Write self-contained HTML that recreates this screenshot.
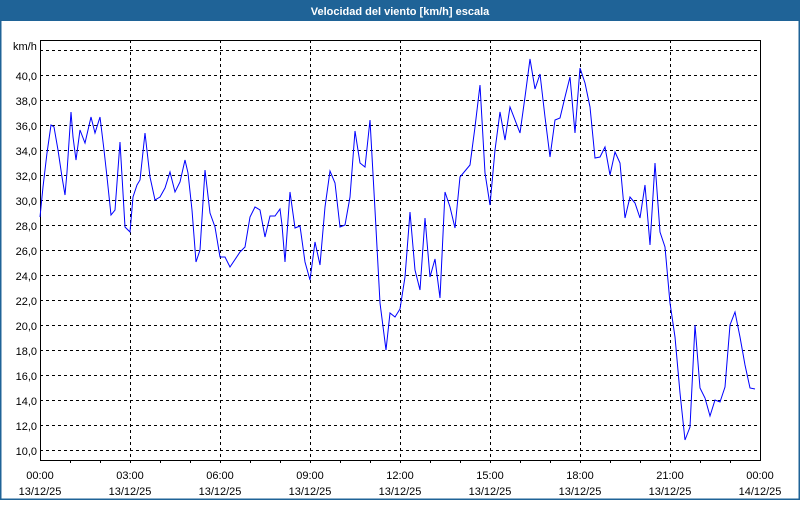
<!DOCTYPE html>
<html><head><meta charset="utf-8"><style>
html,body{margin:0;padding:0;background:#fff;}
body{width:800px;height:500px;overflow:hidden;}
svg text{font-family:"Liberation Sans","DejaVu Sans",sans-serif;font-size:11px;fill:#000;}
</style></head><body>
<svg width="800" height="500" viewBox="0 0 800 500" xmlns="http://www.w3.org/2000/svg">
<rect x="0" y="0" width="800" height="500" fill="#fff"/>
<rect x="0.5" y="0.5" width="799" height="499" fill="none" stroke="#1f6397" stroke-width="2"/>
<rect x="0" y="0" width="800" height="21" fill="#1f6397"/>
<text x="400" y="15" text-anchor="middle" style="fill:#fff;font-weight:bold;font-size:11px">Velocidad del viento [km/h] escala</text>
<g stroke="#000" stroke-width="1" stroke-dasharray="3,3" shape-rendering="crispEdges">
<line x1="40" y1="50.5" x2="760" y2="50.5"/>
<line x1="40" y1="75.5" x2="760" y2="75.5"/>
<line x1="40" y1="100.5" x2="760" y2="100.5"/>
<line x1="40" y1="125.5" x2="760" y2="125.5"/>
<line x1="40" y1="150.5" x2="760" y2="150.5"/>
<line x1="40" y1="175.5" x2="760" y2="175.5"/>
<line x1="40" y1="200.5" x2="760" y2="200.5"/>
<line x1="40" y1="225.5" x2="760" y2="225.5"/>
<line x1="40" y1="250.5" x2="760" y2="250.5"/>
<line x1="40" y1="275.5" x2="760" y2="275.5"/>
<line x1="40" y1="300.5" x2="760" y2="300.5"/>
<line x1="40" y1="325.5" x2="760" y2="325.5"/>
<line x1="40" y1="350.5" x2="760" y2="350.5"/>
<line x1="40" y1="375.5" x2="760" y2="375.5"/>
<line x1="40" y1="400.5" x2="760" y2="400.5"/>
<line x1="40" y1="425.5" x2="760" y2="425.5"/>
<line x1="40" y1="450.5" x2="760" y2="450.5"/>
<line x1="130.5" y1="40" x2="130.5" y2="460"/>
<line x1="220.5" y1="40" x2="220.5" y2="460"/>
<line x1="310.5" y1="40" x2="310.5" y2="460"/>
<line x1="400.5" y1="40" x2="400.5" y2="460"/>
<line x1="490.5" y1="40" x2="490.5" y2="460"/>
<line x1="580.5" y1="40" x2="580.5" y2="460"/>
<line x1="670.5" y1="40" x2="670.5" y2="460"/>
</g>
<rect x="40.5" y="40.5" width="720" height="420" fill="none" stroke="#000" stroke-width="1" shape-rendering="crispEdges"/>
<g stroke="#000" stroke-width="1" shape-rendering="crispEdges">
<path d="M70.5 460v3M100.5 460v3M130.5 460v3M160.5 460v3M190.5 460v3M220.5 460v3M250.5 460v3M280.5 460v3M310.5 460v3M340.5 460v3M370.5 460v3M400.5 460v3M430.5 460v3M460.5 460v3M490.5 460v3M520.5 460v3M550.5 460v3M580.5 460v3M610.5 460v3M640.5 460v3M670.5 460v3M700.5 460v3M730.5 460v3"/>
</g>
<polyline fill="none" stroke="#0000ff" stroke-width="1" points="40,217 43,187 47,153 51,125 54,127 58,150 62,177 65,195 67,172 71,112 73,137 76,160 80,130 85,143 91,117 95,133 100,117 104,150 107,177 111,215 115,210 120,142 125,227 130,232 133,197 137,185 140,180 145,133 150,177 155,200 160,197 165,188 170,172 175,192 180,182 185,160 188,173 192,210 196,262 200,250 205,170 210,213 215,227 220,257 225,257 230,267 240,252 245,247 250,217 255,207 260,210 265,237 270,216 275,216 280,209 282,225 285,262 290,192 295,228 300,226 305,262 310,280 315,242 320,265 325,207 330,171 335,183 340,227 345,225 350,197 355,131 360,163 365,167 370,120 375,210 380,303 386,350 390,313 395,317 400,309 405,277 410,212 415,270 420,290 425,218 430,277 435,259 440,298 445,192 450,207 455,228 460,177 470,165 475,127 480,85 485,173 490,205 495,150 500,112 505,140 510,107 520,133 525,97 530,59 535,89 540,74 545,117 550,157 555,120 560,118 565,97 570,77 575,133 580,68 585,83 590,107 595,158 600,157 605,147 610,175 615,152 620,163 625,218 630,197 635,203 640,218 645,185 650,245 655,163 660,232 665,247 670,303 675,337 680,393 685,440 690,427 695,325 700,388 705,398 710,416 715,400 720,402 725,387 730,325 735,312 740,337 745,365 750,388 755,389"/>
<text x="13" y="50">km/h</text>
<g text-anchor="end">
<text x="37" y="80">40,0</text>
<text x="37" y="105">38,0</text>
<text x="37" y="130">36,0</text>
<text x="37" y="155">34,0</text>
<text x="37" y="180">32,0</text>
<text x="37" y="205">30,0</text>
<text x="37" y="230">28,0</text>
<text x="37" y="255">26,0</text>
<text x="37" y="280">24,0</text>
<text x="37" y="305">22,0</text>
<text x="37" y="330">20,0</text>
<text x="37" y="355">18,0</text>
<text x="37" y="380">16,0</text>
<text x="37" y="405">14,0</text>
<text x="37" y="430">12,0</text>
<text x="37" y="455">10,0</text>
</g>
<g text-anchor="middle">
<text x="40" y="479">00:00</text><text x="40" y="495">13/12/25</text>
<text x="130" y="479">03:00</text><text x="130" y="495">13/12/25</text>
<text x="220" y="479">06:00</text><text x="220" y="495">13/12/25</text>
<text x="310" y="479">09:00</text><text x="310" y="495">13/12/25</text>
<text x="400" y="479">12:00</text><text x="400" y="495">13/12/25</text>
<text x="490" y="479">15:00</text><text x="490" y="495">13/12/25</text>
<text x="580" y="479">18:00</text><text x="580" y="495">13/12/25</text>
<text x="670" y="479">21:00</text><text x="670" y="495">13/12/25</text>
<text x="760" y="479">00:00</text><text x="760" y="495">14/12/25</text>
</g>
</svg>
</body></html>
